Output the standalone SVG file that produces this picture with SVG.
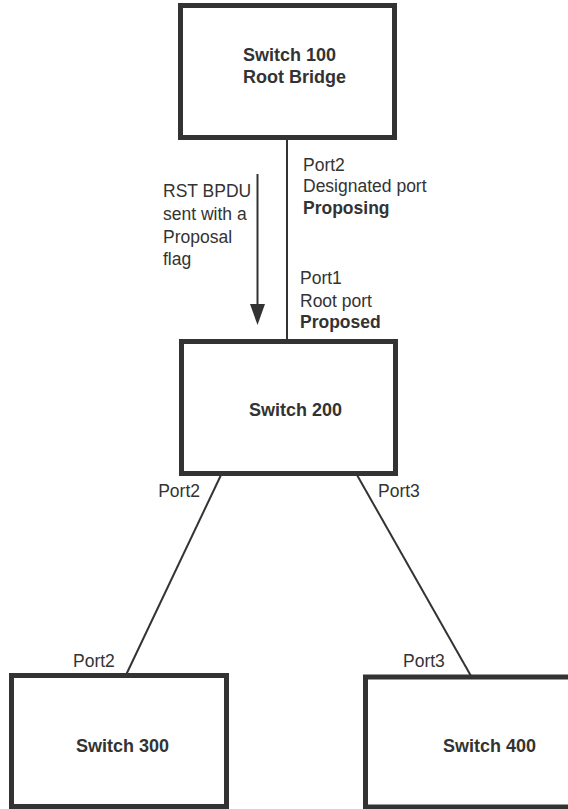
<svg xmlns="http://www.w3.org/2000/svg" width="568" height="809" viewBox="0 0 568 809">
<style>
.box{fill:#fff;stroke:#333;stroke-width:5}
.name{font-family:"Liberation Sans",Arial,sans-serif;font-size:18px;font-weight:bold;fill:#333}
.lbl{font-family:"Liberation Sans",Arial,sans-serif;font-size:17.5px;fill:#333}
.b{font-weight:bold}
.conn{stroke:#333;stroke-width:2;fill:none}
</style>
<rect width="568" height="809" fill="#fff"/>
<g id="connectors">
<line class="conn" x1="287" y1="139" x2="287" y2="340"/>
<line class="conn" x1="221" y1="475" x2="126" y2="675"/>
<line class="conn" x1="357" y1="475" x2="471" y2="676"/>
<line class="conn" x1="257.5" y1="174" x2="257.5" y2="308"/>
<polygon points="250,304 265,304 257.5,325" fill="#333"/>
</g>
<g id="switch100">
<rect class="box" x="180.5" y="5.5" width="214" height="132"/>
<text class="name" x="243" y="61">Switch 100</text>
<text class="name" x="243" y="83">Root Bridge</text>
</g>
<g id="switch200">
<rect class="box" x="181.5" y="341.5" width="214" height="132"/>
<text class="name" x="249" y="416">Switch 200</text>
</g>
<g id="switch300">
<rect class="box" x="11.5" y="675.5" width="215" height="131"/>
<text class="name" x="76" y="752">Switch 300</text>
</g>
<g id="switch400">
<rect class="box" x="365.5" y="677" width="220" height="130"/>
<text class="name" x="443" y="752">Switch 400</text>
</g>
<g id="labels">
<text class="lbl" x="163" y="197">RST BPDU</text>
<text class="lbl" x="163" y="220">sent with a</text>
<text class="lbl" x="163" y="242.5">Proposal</text>
<text class="lbl" x="163" y="265">flag</text>
<text class="lbl" x="303" y="171">Port2</text>
<text class="lbl" x="303" y="192">Designated port</text>
<text class="lbl b" x="303" y="213.5">Proposing</text>
<text class="lbl" x="300" y="284">Port1</text>
<text class="lbl" x="300" y="306.5">Root port</text>
<text class="lbl b" x="300" y="328">Proposed</text>
<text class="lbl" x="200" y="497" text-anchor="end">Port2</text>
<text class="lbl" x="378" y="497">Port3</text>
<text class="lbl" x="73" y="667">Port2</text>
<text class="lbl" x="403" y="667">Port3</text>
</g>
</svg>
